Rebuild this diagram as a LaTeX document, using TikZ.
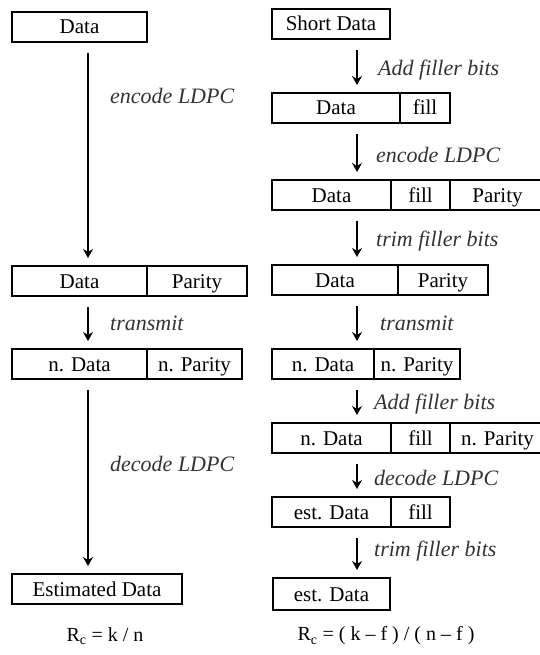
\documentclass[tikz,border=0pt]{standalone}
\usepackage{fontspec}
\setmainfont{Liberation Serif}
\usetikzlibrary{positioning,arrows.meta}

\tikzset{
  seg/.style={draw, line width=1.8pt, inner sep=0pt, outer sep=0pt,
    minimum height=30pt, text height=15pt, text depth=1pt,
    font=\fontsize{21}{23}\selectfont},
  flow/.style={-{Stealth[length=9pt,width=10pt,inset=3pt]}, line width=1.8pt,
    shorten <=11pt, shorten >=8pt},
  lbl/.style={anchor=west, inner sep=0pt, text=black!80,
    font=\itshape\fontsize{22}{24}\selectfont},
  rate/.style={inner sep=0pt, font=\fontsize{20}{22}\selectfont},
}

\begin{document}
\begin{tikzpicture}[x=1pt,y=-1pt]
  \useasboundingbox (0,0) rectangle (540,655);
  \coordinate (colL) at (88,0);
  \coordinate (colR) at (357,0);

  % plain LDPC chain
  \node[seg, minimum width=135pt, anchor=north west] (lData) at (12,12) {Data};

  \node[seg, minimum width=135pt, anchor=north west] (lCodeD) at (12,266) {Data};
  \node[seg, minimum width=100pt, right=0pt of lCodeD] (lCodeP) {Parity};

  \node[seg, minimum width=135pt, anchor=north west] (lRxD) at (12,349) {n. Data};
  \node[seg, minimum width=95pt, right=0pt of lRxD] (lRxP) {n. Parity};

  \node[seg, minimum width=170pt, anchor=north west] (lEst) at (12,574) {Estimated Data};

  \draw[flow] (lData.south -| colL) -- (lCodeD.north -| colL);
  \draw[flow] (lCodeD.south -| colL) -- (lRxD.north -| colL);
  \draw[flow] (lRxD.south -| colL) -- (lEst.north -| colL);

  \node[lbl] (lEnc) at (110,96) {encode LDPC};
  \node[lbl] (lTx) at (110,323) {transmit};
  \node[lbl] (lDec) at (110,464) {decode LDPC};

  % shortened LDPC chain
  \node[seg, minimum width=118pt, anchor=north west] (rShort) at (272,9) {Short Data};

  \node[seg, minimum width=128pt, anchor=north west] (rPadD) at (272,93) {Data};
  \node[seg, minimum width=50pt, right=0pt of rPadD] (rPadF) {fill};

  \node[seg, minimum width=119pt, anchor=north west] (rCodeD) at (272,180) {Data};
  \node[seg, minimum width=59pt, right=0pt of rCodeD] (rCodeF) {fill};
  \node[seg, minimum width=95pt, right=0pt of rCodeF] (rCodeP) {Parity};

  \node[seg, minimum width=126pt, anchor=north west] (rTrimD) at (272,265) {Data};
  \node[seg, minimum width=90pt, right=0pt of rTrimD] (rTrimP) {Parity};

  \node[seg, minimum width=102pt, anchor=north west] (rRxD) at (272,349) {n. Data};
  \node[seg, minimum width=86pt, right=0pt of rRxD] (rRxP) {n. Parity};

  \node[seg, minimum width=119pt, anchor=north west] (rRxPadD) at (272,423) {n. Data};
  \node[seg, minimum width=59pt, right=0pt of rRxPadD] (rRxPadF) {fill};
  \node[seg, minimum width=95pt, right=0pt of rRxPadF] (rRxPadP) {n. Parity};

  \node[seg, minimum width=119pt, anchor=north west] (rEstD) at (272,497) {est. Data};
  \node[seg, minimum width=59pt, right=0pt of rEstD] (rEstF) {fill};

  \node[seg, minimum width=117pt, minimum height=32pt, anchor=north west] (rEst) at (273,578) {est. Data};

  \draw[flow] (rShort.south -| colR) -- (rPadD.north -| colR);
  \draw[flow] (rPadD.south -| colR) -- (rCodeD.north -| colR);
  \draw[flow] (rCodeD.south -| colR) -- (rTrimD.north -| colR);
  \draw[flow] (rTrimD.south -| colR) -- (rRxD.north -| colR);
  \draw[flow] (rRxD.south -| colR) -- (rRxPadD.north -| colR);
  \draw[flow] (rRxPadD.south -| colR) -- (rEstD.north -| colR);
  \draw[flow] (rEstD.south -| colR) -- (rEst.north -| colR);

  \node[lbl] (rAdd) at (378,70) {Add filler bits};
  \node[lbl] (rEnc) at (376,155) {encode LDPC};
  \node[lbl] (rTrim) at (376,241) {trim filler bits};
  \node[lbl] (rTx) at (380,323) {transmit};
  \node[lbl] (rAdd2) at (374,404) {Add filler bits};
  \node[lbl] (rDec) at (374,478) {decode LDPC};
  \node[lbl] (rTrim2) at (374,551) {trim filler bits};

  % code rates
  \node[rate] (rateL) at (105,636) {R\textsubscript{c} = k / n};
  \node[rate] (rateR) at (386,636) {R\textsubscript{c} = ( k -- f ) / ( n -- f )};
\end{tikzpicture}
\end{document}
